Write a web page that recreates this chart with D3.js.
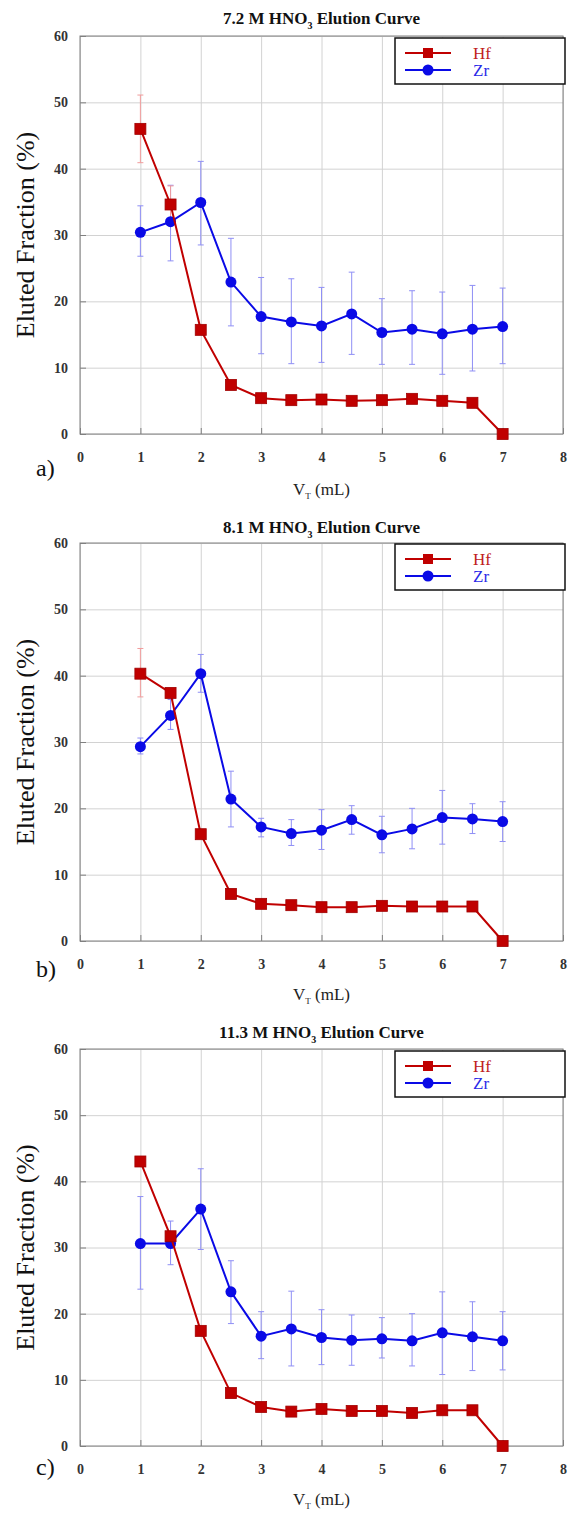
<!DOCTYPE html>
<html>
<head>
<meta charset="utf-8">
<script src="https://cdn.jsdelivr.net/npm/d3@7"></script>
<style>
  body { margin: 0; background: #fff; }
  text { font-family: 'Liberation Serif', 'Times New Roman', serif; }
</style>
</head>
<body>
<script>
// x values (mL), same for all panels
const volumes = [1, 1.5, 2, 2.5, 3, 3.5, 4, 4.5, 5, 5.5, 6, 6.5, 7]
const xTicks = [0, 1, 2, 3, 4, 5, 6, 7, 8]
const yTicks = [0, 10, 20, 30, 40, 50, 60]
const titles = ['7.2 M HNO', '8.1 M HNO', '11.3 M HNO']
const letters = ['a)', 'b)', 'c)']

// panel a - 7.2 M
const hfA = [46.0, 34.6, 15.7, 7.4, 5.4, 5.1, 5.2, 5.0, 5.1, 5.3, 5.0, 4.7, 0]
const hfALow = [40.9, 31.8, null, null, null, null, null, null, null, null, null, null, null]
const hfAHigh = [51.1, 37.4, null, null, null, null, null, null, null, null, null, null, null]
const zrA = [30.4, 32.0, 34.9, 22.9, 17.7, 16.9, 16.3, 18.1, 15.3, 15.8, 15.1, 15.8, 16.2]
const zrALow = [26.8, 26.1, 28.5, 16.3, 12.1, 10.6, 10.8, 12.0, 10.5, 10.5, 9.0, 9.5, 10.6]
const zrAHigh = [34.4, 37.5, 41.1, 29.5, 23.6, 23.4, 22.1, 24.4, 20.4, 21.6, 21.4, 22.4, 22.0]

// panel b - 8.1 M
const hfB = [40.3, 37.4, 16.1, 7.1, 5.6, 5.4, 5.1, 5.1, 5.3, 5.2, 5.2, 5.2, 0]
const hfBLow = [36.8, null, null, null, null, null, null, null, null, null, null, null, null]
const hfBHigh = [44.1, null, null, null, null, null, null, null, null, null, null, null, null]
const zrB = [29.3, 34.0, 40.3, 21.4, 17.2, 16.2, 16.7, 18.3, 16.0, 16.9, 18.6, 18.4, 18.0]
const zrBLow = [28.2, 31.9, 37.5, 17.2, 15.7, 14.4, 13.8, 16.1, 13.3, 13.9, 14.6, 16.2, 15.0]
const zrBHigh = [30.6, 36.4, 43.2, 25.6, 18.5, 18.3, 19.8, 20.4, 18.8, 20.0, 22.7, 20.7, 21.0]

// panel c - 11.3 M
const hfC = [43.0, 31.7, 17.4, 8.0, 5.9, 5.2, 5.6, 5.3, 5.3, 5.0, 5.4, 5.4, 0]
const zrC = [30.6, 30.6, 35.8, 23.3, 16.6, 17.7, 16.4, 16.0, 16.2, 15.9, 17.1, 16.5, 15.9]
const zrCLow = [23.7, 27.4, 29.7, 18.5, 13.2, 12.1, 12.3, 12.2, 13.3, 12.1, 10.8, 11.4, 11.5]
const zrCHigh = [37.7, 34.0, 41.9, 28.0, 20.3, 23.4, 20.6, 19.8, 19.4, 20.0, 23.3, 21.8, 20.3]

// layout of the three stacked panels
const panels = [
  { top: 36, bottom: 434, titleY: 24, legendY: 38, letterY: 476, xLabelY: 495,
    hf: hfA, hfLo: hfALow, hfHi: hfAHigh, zr: zrA, zrLo: zrALow, zrHi: zrAHigh },
  { top: 543, bottom: 941, titleY: 533, legendY: 544, letterY: 977, xLabelY: 1000,
    hf: hfB, hfLo: hfBLow, hfHi: hfBHigh, zr: zrB, zrLo: zrBLow, zrHi: zrBHigh },
  { top: 1049, bottom: 1446, titleY: 1038, legendY: 1051, letterY: 1475, xLabelY: 1505,
    hf: hfC, hfLo: [], hfHi: [], zr: zrC, zrLo: zrCLow, zrHi: zrCHigh }
]

const width = 569
const height = 1514
const left = 80
const right = 563

const hfColor = '#c00000'
const zrColor = '#0a0ae6'

const svg = d3.select('body')
  .append('svg')
  .attr('width', width)
  .attr('height', height)

const x = d3.scaleLinear().domain([0, 8]).range([left, right])

panels.forEach((p, pi) => {
  const y = d3.scaleLinear().domain([0, 60]).range([p.bottom, p.top])
  const g = svg.append('g')
  const h = p.bottom - p.top

  // grid
  g.append('g')
    .attr('transform', `translate(0, ${p.bottom})`)
    .call(d3.axisBottom(x).tickValues(xTicks).tickSize(-h).tickFormat(''))
    .call(a => a.select('.domain').remove())
    .selectAll('line').attr('stroke', '#d2d2d2')
  g.append('g')
    .attr('transform', `translate(${left}, 0)`)
    .call(d3.axisLeft(y).tickValues(yTicks).tickSize(-(right - left)).tickFormat(''))
    .call(a => a.select('.domain').remove())
    .selectAll('line').attr('stroke', '#d2d2d2')

  // frame
  g.append('rect')
    .attr('x', left).attr('y', p.top)
    .attr('width', right - left).attr('height', h)
    .attr('fill', 'none').attr('stroke', '#808080')

  // axes with inward ticks
  const xAxis = g.append('g')
    .attr('transform', `translate(0, ${p.bottom})`)
    .call(d3.axisBottom(x).tickValues(xTicks).tickSize(-6).tickSizeOuter(0).tickPadding(18))
  const yAxis = g.append('g')
    .attr('transform', `translate(${left}, 0)`)
    .call(d3.axisLeft(y).tickValues(yTicks).tickSize(-6).tickSizeOuter(0).tickPadding(12))
  ;[xAxis, yAxis].forEach(a => {
    a.select('.domain').remove()
    a.selectAll('line').attr('stroke', '#808080')
    a.selectAll('text')
      .attr('font-family', "'Liberation Serif', serif")
      .attr('font-size', 14)
      .attr('font-weight', 'bold')
      .attr('fill', '#333')
  })

  // title
  const title = g.append('text')
    .attr('x', (left + right) / 2)
    .attr('y', p.titleY)
    .attr('text-anchor', 'middle')
    .attr('font-size', 17)
    .attr('font-weight', 'bold')
    .attr('fill', '#111')
  title.append('tspan').text(titles[pi])
  title.append('tspan').attr('font-size', 10).attr('dy', 5).text('3')
  title.append('tspan').attr('dy', -5).text(' Elution Curve')

  // y label
  g.append('text')
    .attr('transform', `translate(25, ${(p.top + p.bottom) / 2}) rotate(-90)`)
    .attr('text-anchor', 'middle')
    .attr('dominant-baseline', 'central')
    .attr('font-size', 26)
    .attr('fill', '#111')
    .text('Eluted Fraction (%)')

  // x label
  const xl = g.append('text')
    .attr('x', (left + right) / 2)
    .attr('y', p.xLabelY)
    .attr('text-anchor', 'middle')
    .attr('font-size', 17)
    .attr('fill', '#222')
  xl.append('tspan').text('V')
  xl.append('tspan').attr('font-size', 9).attr('dy', 4).text('T')
  xl.append('tspan').attr('dy', -4).text(' (mL)')

  // panel letter
  g.append('text')
    .attr('x', 36)
    .attr('y', p.letterY)
    .attr('font-size', 24)
    .attr('fill', '#111')
    .text(letters[pi])

  const series = [
    { vals: p.zr, lo: p.zrLo, hi: p.zrHi, color: zrColor, err: '#8f8ff5', shape: 'circle' },
    { vals: p.hf, lo: p.hfLo, hi: p.hfHi, color: hfColor, err: '#f19c9c', shape: 'square' }
  ]

  // error bars first
  series.forEach(s => {
    const bars = volumes.map((v, i) => ({ v, lo: s.lo[i], hi: s.hi[i] }))
      .filter(d => d.lo != null && d.hi != null)
    const eg = g.append('g').attr('stroke', s.err).attr('stroke-width', 1)
    eg.selectAll('.bar').data(bars).enter().append('line')
      .attr('x1', d => x(d.v)).attr('x2', d => x(d.v))
      .attr('y1', d => y(d.lo)).attr('y2', d => y(d.hi))
    eg.selectAll('.capLo').data(bars).enter().append('line')
      .attr('x1', d => x(d.v) - 3).attr('x2', d => x(d.v) + 3)
      .attr('y1', d => y(d.lo)).attr('y2', d => y(d.lo))
    eg.selectAll('.capHi').data(bars).enter().append('line')
      .attr('x1', d => x(d.v) - 3).attr('x2', d => x(d.v) + 3)
      .attr('y1', d => y(d.hi)).attr('y2', d => y(d.hi))
  })

  series.forEach(s => {
    const pts = volumes.map((v, i) => [v, s.vals[i]])
    g.append('path')
      .datum(pts)
      .attr('fill', 'none')
      .attr('stroke', s.color)
      .attr('stroke-width', 2)
      .attr('d', d3.line().x(d => x(d[0])).y(d => y(d[1])))
    if (s.shape === 'circle') {
      g.selectAll(null).data(pts).enter().append('circle')
        .attr('cx', d => x(d[0])).attr('cy', d => y(d[1]))
        .attr('r', 5.5).attr('fill', s.color)
    } else {
      g.selectAll(null).data(pts).enter().append('rect')
        .attr('x', d => x(d[0]) - 5.5).attr('y', d => y(d[1]) - 5.5)
        .attr('width', 11).attr('height', 11)
        .attr('fill', s.color).attr('stroke', '#a00000').attr('stroke-width', 0.8)
    }
  })

  // legend
  const lg = g.append('g').attr('transform', `translate(395, ${p.legendY})`)
  lg.append('rect')
    .attr('width', 170).attr('height', 46)
    .attr('fill', '#fff').attr('stroke', '#111').attr('stroke-width', 1.5)
  const items = [
    { name: 'Hf', color: hfColor, txt: '#c02020', shape: 'square', dy: 15 },
    { name: 'Zr', color: zrColor, txt: '#2a2ae8', shape: 'circle', dy: 32 }
  ]
  items.forEach(it => {
    lg.append('line')
      .attr('x1', 10).attr('x2', 56).attr('y1', it.dy).attr('y2', it.dy)
      .attr('stroke', it.color).attr('stroke-width', 2)
    if (it.shape === 'square') {
      lg.append('rect').attr('x', 28).attr('y', it.dy - 5).attr('width', 10).attr('height', 10)
        .attr('fill', it.color)
    } else {
      lg.append('circle').attr('cx', 33).attr('cy', it.dy).attr('r', 5.5).attr('fill', it.color)
    }
    lg.append('text')
      .attr('x', 78).attr('y', it.dy + 6)
      .attr('font-size', 17)
      .attr('fill', it.txt)
      .text(it.name)
  })
})
</script>
</body>
</html>
